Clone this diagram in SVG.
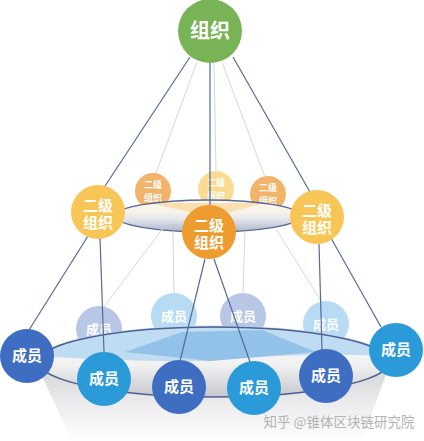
<svg xmlns="http://www.w3.org/2000/svg" width="424" height="441" viewBox="0 0 424 441">
<defs>
<linearGradient id="bowl" x1="0" y1="0" x2="0" y2="1">
<stop offset="0" stop-color="#d3d4d8"/>
<stop offset="0.5" stop-color="#ececee"/>
<stop offset="1" stop-color="#ffffff"/>
</linearGradient>
<linearGradient id="rim" x1="0" y1="0" x2="0" y2="1">
<stop offset="0" stop-color="#fafafa"/>
<stop offset="0.55" stop-color="#f1f1f2"/>
<stop offset="1" stop-color="#c6c7cc"/>
</linearGradient>
<linearGradient id="disk2" x1="0" y1="0" x2="0" y2="1">
<stop offset="0" stop-color="#fdf7ea"/>
<stop offset="0.4" stop-color="#f6f2ea"/>
<stop offset="0.6" stop-color="#e2e6ed"/>
<stop offset="1" stop-color="#aeb6c5"/>
</linearGradient>
<style>
.dk{stroke:#56699a;stroke-width:1.2;fill:none}
.lt{stroke:#d3d7df;stroke-width:1;fill:none}
text{font-family:"Noto Sans CJK SC","Noto Sans",sans-serif;font-weight:bold;fill:#fff;text-anchor:middle}
.t2{font-size:15px}
.t3{font-size:15px}
.ts{font-size:9px}
.tf{font-size:13px}
.db{fill:#3e6dc1}
.lb{fill:#2a9ad9}
</style>
</defs>
<rect width="424" height="441" fill="#fff"/>

<!-- bowl -->
<path d="M40,372 L72,441 L362,441 L389,366 Z" fill="url(#bowl)"/>

<!-- faded back members -->
<g id="m-back1"><circle cx="99" cy="329" r="23" fill="#b9c7e7"/><text class="tf" x="99" y="334">成员</text></g>
<g id="m-back2"><circle cx="174" cy="316" r="23" fill="#b6dbf3"/><text class="tf" x="174" y="321">成员</text></g>
<g id="m-back3"><circle cx="243" cy="316" r="23" fill="#b9c7e7"/><text class="tf" x="243" y="321">成员</text></g>
<g id="m-back4"><circle cx="326" cy="324" r="23" fill="#b6dbf3"/><text class="tf" x="326" y="329">成员</text></g>

<!-- bottom disk -->
<g id="disk-bottom">
<ellipse cx="214" cy="362" rx="175" ry="35" fill="url(#rim)"/>
<path d="M41,356 A175 35 0 0 1 388,356 Q300,352 210,361 Q120,362 41,356 Z" fill="#c0dcf2"/>
<polygon points="125,352 182,332 262,330 316,352 210,361" fill="#92c2e8"/>
<ellipse cx="214" cy="362" rx="175" ry="35" fill="none" stroke="#4c6092" stroke-width="1.3"/>
</g>

<!-- back second level -->
<g id="s-back1"><circle cx="153" cy="191" r="18" fill="#f2b36a"/><text class="ts" x="153" y="188">二级<tspan x="153" dy="13">组织</tspan></text></g>
<g id="s-back2"><circle cx="216" cy="189" r="18" fill="#fadb93"/><text class="ts" x="216" y="186">二级<tspan x="216" dy="13">组织</tspan></text></g>
<g id="s-back3"><circle cx="268" cy="194" r="18" fill="#f2b46b"/><text class="ts" x="268" y="191">二级<tspan x="268" dy="13">组织</tspan></text></g>

<!-- middle disk -->
<g id="disk-middle">
<ellipse cx="208" cy="216" rx="93" ry="16" fill="url(#disk2)"/>
<polygon points="150,203 264,203 212,217" fill="#f9d89c" opacity="0.75"/>
<ellipse cx="208" cy="216" rx="93" ry="16" fill="none" stroke="#56699a" stroke-width="1.3"/>
</g>

<!-- connectors -->
<g id="connectors">
<line class="lt" x1="197" y1="62" x2="156" y2="173"/>
<line class="lt" x1="214" y1="62" x2="216" y2="171"/>
<line class="lt" x1="222" y1="62" x2="265" y2="177"/>
<line class="lt" x1="163" y1="228" x2="104" y2="307"/>
<line class="lt" x1="173" y1="231" x2="174" y2="293"/>
<line class="lt" x1="245" y1="231" x2="243" y2="293"/>
<line class="lt" x1="276" y1="229" x2="321" y2="301"/>
<line class="dk" x1="190" y1="57" x2="105" y2="186"/>
<line class="dk" x1="210" y1="62" x2="210" y2="205"/>
<line class="dk" x1="233" y1="57" x2="310" y2="192"/>
<line class="dk" x1="88" y1="236" x2="29" y2="330"/>
<line class="dk" x1="100" y1="238" x2="104" y2="352"/>
<line class="dk" x1="205" y1="259" x2="180" y2="361"/>
<line class="dk" x1="214" y1="259" x2="250" y2="362"/>
<line class="dk" x1="319" y1="244" x2="322" y2="350"/>
<line class="dk" x1="331" y1="238" x2="381" y2="327"/>
</g>

<!-- top -->
<g id="org"><circle cx="210" cy="31" r="32" fill="#78b455"/><text x="210" y="38" style="font-size:20px">组织</text></g>

<!-- second level front -->
<g id="s-left"><circle cx="98" cy="212" r="27" fill="#f8c657"/><text class="t2" x="98" y="211">二级<tspan x="98" dy="17">组织</tspan></text></g>
<g id="s-center"><circle cx="209" cy="232" r="27" fill="#ee9b2f"/><text class="t2" x="209" y="231">二级<tspan x="209" dy="17">组织</tspan></text></g>
<g id="s-right"><circle cx="317" cy="217" r="27" fill="#f8c657"/><text class="t2" x="317" y="216">二级<tspan x="317" dy="17">组织</tspan></text></g>

<!-- members front -->
<g id="m1"><circle class="db" cx="27" cy="356" r="27"/><text class="t3" x="27" y="361">成员</text></g>
<g id="m2"><circle class="lb" cx="104" cy="379" r="27"/><text class="t3" x="104" y="384">成员</text></g>
<g id="m3"><circle class="db" cx="179" cy="387" r="27"/><text class="t3" x="179" y="392">成员</text></g>
<g id="m4"><circle class="lb" cx="254" cy="388" r="27"/><text class="t3" x="254" y="393">成员</text></g>
<g id="m5"><circle class="db" cx="326" cy="376" r="27"/><text class="t3" x="326" y="381">成员</text></g>
<g id="m6"><circle class="lb" cx="396" cy="350" r="27"/><text class="t3" x="396" y="355">成员</text></g>

<text x="339" y="427" style="font-size:13.5px;font-weight:normal;fill:#b3b3b3">知乎 @锥体区块链研究院</text>
</svg>
